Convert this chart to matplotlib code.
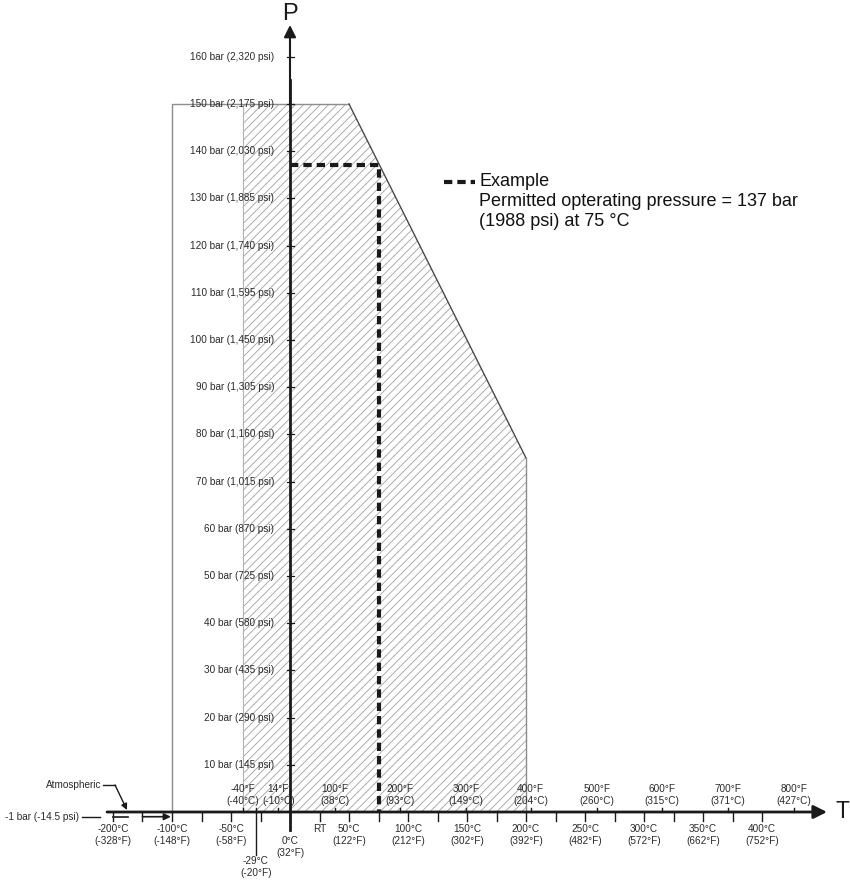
import matplotlib
matplotlib.use("Agg")
import matplotlib.pyplot as plt
from matplotlib.patches import Polygon

# ---- data ---------------------------------------------------------------
# pressure ticks on the P axis (bar, psi)
p_bar = [10, 20, 30, 40, 50, 60, 70, 80, 90, 100, 110, 120, 130, 140, 150, 160]
p_psi = ["145", "290", "435", "580", "725", "870", "1,015", "1,160", "1,305",
         "1,450", "1,595", "1,740", "1,885", "2,030", "2,175", "2,320"]

# Celsius ticks under the T axis with Fahrenheit equivalents
c_ticks = [-200, -100, -50, 0, 50, 100, 150, 200, 250, 300, 350, 400]
c_as_f = [-328, -148, -58, 32, 122, 212, 302, 392, 482, 572, 662, 752]

# Fahrenheit ticks above the T axis with Celsius equivalents
f_ticks = [-40, 14, 100, 200, 300, 400, 500, 600, 700, 800]
f_as_c = [-40, -10, 38, 93, 149, 204, 260, 315, 371, 427]

# minor ticks below the axis (°C)
minor_c = [-200, -150, -100, -75, -50, -25, 0, 25, 50, 75, 100, 125, 150, 175,
           200, 225, 250, 275, 300, 325, 350, 375, 400]

# permitted pressure envelope (°C, bar)
env_t = [-100, 50, 200]
env_p = [150, 150, 75]
hatch_t_min = -40          # hatched range starts at -40 °C
example_t, example_p = 75, 137
room_temp = 25
low_mark_c, low_mark_f = -29, -20

# ---- scales -------------------------------------------------------------
PX_PER_U = 1.18    # px per °C
PX_PER_BAR = 4.72  # px per bar


def tx(t):
    """Temperature to axis position; below -100 °C the scale is halved."""
    return t if t >= -100 else -100 + (t + 100) / 2.0


def dx(px):
    return px / PX_PER_U


def dy(px):
    return px / PX_PER_BAR


plt.rcParams["font.family"] = ["Liberation Sans", "DejaVu Sans"]
plt.rcParams["hatch.linewidth"] = 0.6

fig = plt.figure(figsize=(8.5, 8.82), dpi=100)
ax = fig.add_axes([0, 0, 1, 1])
ax.set_xlim(dx(-290), dx(850 - 290))
ax.set_ylim(dy(-(882 - 812)), dy(812))
ax.axis("off")

TXT = "#2a2a2a"
GRAY = "#8c8c8c"
INK = "#1a1a1a"
LBL = 7.2

# ---- hatched permitted region ------------------------------------------
top_at_min = env_p[0]
hatch_poly = [(tx(hatch_t_min), 0), (tx(hatch_t_min), top_at_min),
              (tx(env_t[1]), env_p[1]), (tx(env_t[2]), env_p[2]),
              (tx(env_t[2]), 0)]
ax.add_patch(Polygon(hatch_poly, closed=True, facecolor="none",
                     edgecolor="#a0a0a0", hatch="////", linewidth=0, zorder=1))
ax.plot([tx(hatch_t_min)] * 2, [0, top_at_min], color="#b4b4b4", lw=0.8, zorder=2)

# envelope outline
ax.plot([tx(env_t[0]), tx(env_t[0]), tx(env_t[1])], [0, env_p[0], env_p[1]],
        color=GRAY, lw=1.0, zorder=2)
ax.plot([tx(env_t[1]), tx(env_t[2])], [env_p[1], env_p[2]], color="#4a4a4a",
        lw=1.0, zorder=2)
ax.plot([tx(env_t[2]), tx(env_t[2])], [env_p[2], 0], color=GRAY, lw=1.0, zorder=2)

# ---- example operating point -------------------------------------------
ax.plot([0, tx(example_t), tx(example_t)], [example_p, example_p, 0],
        color=INK, lw=3, dashes=(2.0, 1.2), zorder=4)

# ---- P axis --------------------------------------------------------------
ax.plot([0, 0], [dy(-18), 155], color=INK, lw=2, zorder=5)
ax.annotate("", xy=(0, dy(812 - 25)), xytext=(0, 150),
            arrowprops=dict(arrowstyle="-|>", lw=1.5, color=INK,
                            mutation_scale=18, shrinkA=0, shrinkB=0), zorder=5)
ax.text(0, dy(812 - 14), "P", fontsize=17, ha="center", va="center", color=INK)
for b, psi in zip(p_bar, p_psi):
    ax.plot([dx(-3.5), dx(3.5)], [b, b], color=INK, lw=0.9, zorder=5)
    ax.text(dx(-16), b, f"{b} bar ({psi} psi)", fontsize=LBL, ha="right",
            va="center", color=TXT, zorder=6)

# ---- T axis --------------------------------------------------------------
ax.annotate("", xy=(dx(827 - 290), 0), xytext=(dx(107 - 290), 0),
            arrowprops=dict(arrowstyle="-|>", lw=2, color=INK,
                            mutation_scale=20, shrinkA=0, shrinkB=0), zorder=5)
ax.text(dx(842 - 290), 0, "T", fontsize=16.5, ha="center", va="center", color=INK)

for t in minor_c:
    ax.plot([tx(t)] * 2, [0, dy(-9)], color=INK, lw=1.0, zorder=5)
for t in f_as_c:
    ax.plot([tx(t)] * 2, [0, dy(4.5)], color=INK, lw=1.0, zorder=5)

for t, f in zip(c_ticks, c_as_f):
    y1 = dy(-12) if t != 0 else dy(-24)
    ax.text(tx(t), y1, f"{t}°C\n({f}°F)", fontsize=LBL, ha="center", va="top",
            color=TXT, linespacing=1.3)
ax.text(tx(room_temp), dy(-12), "RT", fontsize=LBL, ha="center", va="top", color=TXT)

for f, c in zip(f_ticks, f_as_c):
    ax.text(tx(c), dy(6), f"{f}°F\n({c}°C)", fontsize=LBL, ha="center",
            va="bottom", color=TXT, linespacing=1.3, zorder=6)

# -29 °C marker with long leader
ax.plot([tx(low_mark_c)] * 2, [dy(4), dy(-43)], color=INK, lw=1.0, zorder=5)
ax.text(tx(low_mark_c), dy(-44), f"{low_mark_c}°C\n({low_mark_f}°F)", fontsize=LBL,
        ha="center", va="top", color=TXT, linespacing=1.3)

# vacuum range at -1 bar
ax.plot([tx(-200), tx(-175)], [-1, -1], color=INK, lw=1.2)
ax.annotate("", xy=(tx(-102), -1), xytext=(tx(-150), -1),
            arrowprops=dict(arrowstyle="-|>", lw=1.2, color=INK,
                            mutation_scale=10, shrinkA=0, shrinkB=0))
ax.text(dx(5 - 290), -1, "-1 bar (-14.5 psi)", fontsize=LBL, ha="left",
        va="center", color=TXT)
ax.plot([dx(82 - 290), dx(100 - 290)], [-1, -1], color=INK, lw=1.0)

# atmospheric pointer
ax.text(dx(101 - 290), dy(812 - 785), "Atmospheric", fontsize=LBL, ha="right",
        va="center", color=TXT)
ax.plot([dx(103 - 290), dx(115 - 290)], [dy(27), dy(27)], color=INK, lw=1.0)
ax.annotate("", xy=(dx(127 - 290), dy(2)), xytext=(dx(115 - 290), dy(27)),
            arrowprops=dict(arrowstyle="-|>", lw=1.0, color=INK,
                            mutation_scale=9, shrinkA=0, shrinkB=0))

# ---- legend --------------------------------------------------------------
ax.plot([dx(444 - 290), dx(475 - 290)], [dy(812 - 182)] * 2, color=INK,
        lw=3, dashes=(2.0, 1.2))
ax.text(dx(479 - 290), dy(812 - 173),
        "Example\nPermitted opterating pressure = 137 bar\n(1988 psi) at 75 °C",
        fontsize=13, ha="left", va="top", color="#111111", linespacing=1.25)

fig.savefig("out.png", dpi=100)
